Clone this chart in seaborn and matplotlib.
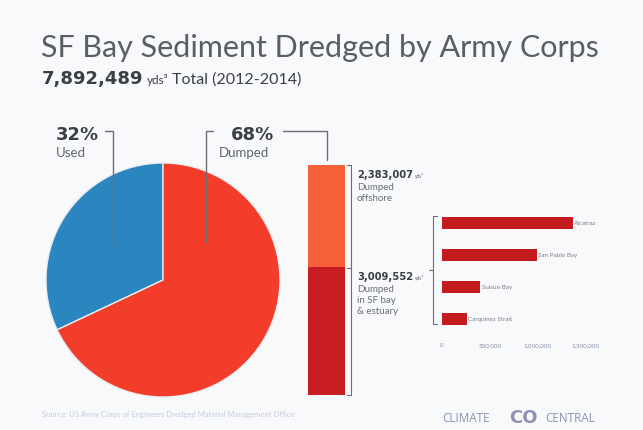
import matplotlib
matplotlib.use("Agg")
import matplotlib.pyplot as plt
import seaborn as sns
import pandas as pd
from matplotlib.lines import Line2D

# ---- data ----
pie_labels = ["Used", "Dumped"]
pie_pcts = [32, 68]
dump_labels = ["Dumped offshore", "Dumped in SF bay & estuary"]
dump_values = [2383007, 3009552]
site_names = ["Alcatraz", "San Pablo Bay", "Suisun Bay", "Carquinez Strait"]
site_values = [1360000, 990000, 400000, 260000]
site_ticks = [0, 500000, 1000000, 1500000]
site_tick_labels = ["0", "500,000", "1,000,000", "1,500,000"]

sns.set_theme(style="white")
plt.rcParams["font.family"] = ["Lato", "DejaVu Sans"]

W, H = 643, 430
BG = "#f8f9fb"
fig = plt.figure(figsize=(W / 100, H / 100), dpi=100, facecolor=BG)
renderer = fig.canvas.get_renderer()

def fx(px):
    return px / W

def fy(py):
    return 1 - py / H

def box(x0, y0, x1, y1):
    return [fx(x0), fy(y1), fx(x1 - x0), (y1 - y0) / H]

def right_px(t):
    bb = t.get_window_extent(renderer=renderer)
    return bb.x1

GRAY = "#5f646b"
DARK = "#3b3f45"
LINE = "#6b6f75"
COND = dict(family=["DejaVu Sans"], fontweight="bold")

# ---- title ----
fig.text(fx(41), fy(57), "SF Bay Sediment Dredged by Army Corps", fontsize=22,
         fontweight="normal", color="#5a5e64", ha="left", va="baseline")
t = fig.text(fx(42), fy(84), "7,892,489", fontsize=13, color=DARK,
             ha="left", va="baseline", **COND)
xr = right_px(t) + 3
t2 = fig.text(xr / W, fy(84), "yds\u00b3", fontsize=8.5, color=DARK, ha="left",
              va="baseline")
xr2 = right_px(t2) + 4
fig.text(xr2 / W, fy(84), "Total (2012-2014)", fontsize=11.5, color=DARK,
         ha="left", va="baseline")

# ---- pie ----
axp = fig.add_axes(box(46, 163, 280, 397))
axp.set_facecolor(BG)
axp.pie(pie_pcts, colors=["#2b86bf", "#f23d2b"], startangle=90, counterclock=True,
        wedgeprops=dict(edgecolor="#e8ecef", linewidth=1.0))
axp.set_aspect("equal")
axp.set_xlim(-1, 1)
axp.set_ylim(-1, 1)
axp.axis("off")

# pie annotations
fig.text(fx(56), fy(140), f"{pie_pcts[0]}%", fontsize=13, color=DARK, va="baseline", **COND)
fig.text(fx(56), fy(157), pie_labels[0], fontsize=9.5, color=GRAY, va="baseline")
fig.text(fx(231), fy(140), f"{pie_pcts[1]}%", fontsize=13, color=DARK, va="baseline", **COND)
fig.text(fx(219), fy(157), pie_labels[1], fontsize=9.5, color=GRAY, va="baseline")

def fline(xs, ys, lw=1.0, color=LINE):
    fig.add_artist(Line2D([fx(x) for x in xs], [fy(y) for y in ys],
                          transform=fig.transFigure, color=color, lw=lw))

fline([105, 113, 113], [131, 131, 245])
fline([213, 206, 206], [131, 131, 242])
fline([283, 327, 327], [131, 131, 160])

# ---- stacked bar ----
axs = fig.add_axes(box(308, 165, 345, 395))
axs.set_facecolor(BG)
df_s = pd.DataFrame({"g": ["Dumped"], "total": [sum(dump_values)], "bay": [dump_values[1]]})
sns.barplot(data=df_s, x="g", y="total", color="#f8603a", width=1.0, ax=axs,
            saturation=1, linewidth=0)
sns.barplot(data=df_s, x="g", y="bay", color="#c81d23", width=1.0, ax=axs,
            saturation=1, linewidth=0)
axs.set_xlim(-0.5, 0.5)
axs.set_ylim(0, sum(dump_values))
axs.axis("off")

# bracket right of stacked bar
fline([347, 351, 351, 347], [165, 165, 395, 395], lw=0.8)
fline([347, 351], [268, 268], lw=0.8)

def val_label(x, y, value, lines):
    t = fig.text(fx(x), fy(y), f"{value:,}", fontsize=7.2, color=DARK, va="baseline", **COND)
    xr = right_px(t) + 2
    fig.text(xr / W, fy(y), "yds\u00b3", fontsize=3.5, color=GRAY, va="baseline")
    for i, s in enumerate(lines):
        fig.text(fx(x), fy(y + 12 + 11 * i), s, fontsize=7, color="#6a6f76",
                 va="baseline")

val_label(357, 178, dump_values[0], ["Dumped", "offshore"])
val_label(357, 280, dump_values[1], ["Dumped", "in SF bay", "& estuary"])

# bracket to the site bar chart
fline([437, 433, 433, 437], [216, 216, 324, 324], lw=0.8)
fline([429, 433], [270, 270], lw=0.8)

# ---- horizontal bars by site ----
x0_px, px_per_unit = 442, 48 / 500000
xmax = 1650000
axb = fig.add_axes(box(x0_px, 207, x0_px + xmax * px_per_unit, 335))
axb.set_facecolor(BG)
df_b = pd.DataFrame({"site": site_names, "value": site_values})
sns.barplot(data=df_b, y="site", x="value", orient="h", color="#c41b21",
            saturation=1, width=0.38, ax=axb, linewidth=0)
axb.set_xlim(0, xmax)
axb.set_ylim(3.5, -0.5)
for i, (n, v) in enumerate(zip(site_names, site_values)):
    axb.text(v + 15000, i, n, fontsize=4.5, color="#7a7f86", va="center", ha="left")
for s in axb.spines.values():
    s.set_visible(False)
axb.set_yticks([])
axb.set_ylabel("")
axb.set_xlabel("")
axb.set_xticks(site_ticks)
axb.set_xticklabels(site_tick_labels, fontsize=4.5, color="#8a90a8")
axb.tick_params(axis="x", length=0, pad=6)

# ---- footer ----
fig.text(fx(42), fy(414), "Source: US Army Corps of Engineers Dredged Material Management Office",
         fontsize=5.5, color="#c5cbe0", va="center")
fig.text(fx(442), fy(418), "CLIMATE", fontsize=8.5, color="#8a93b0", va="center",
         family=["Open Sans", "DejaVu Sans"])
fig.text(fx(545), fy(418), "CENTRAL", fontsize=8.5, color="#8a93b0", va="center",
         family=["Open Sans", "DejaVu Sans"])
fig.text(fx(523), fy(418), "CO", fontsize=13, fontweight="bold", color="#8a93b0",
         va="center", ha="center", family=["DejaVu Sans"])

fig.savefig("out.png", dpi=100, facecolor=BG)
